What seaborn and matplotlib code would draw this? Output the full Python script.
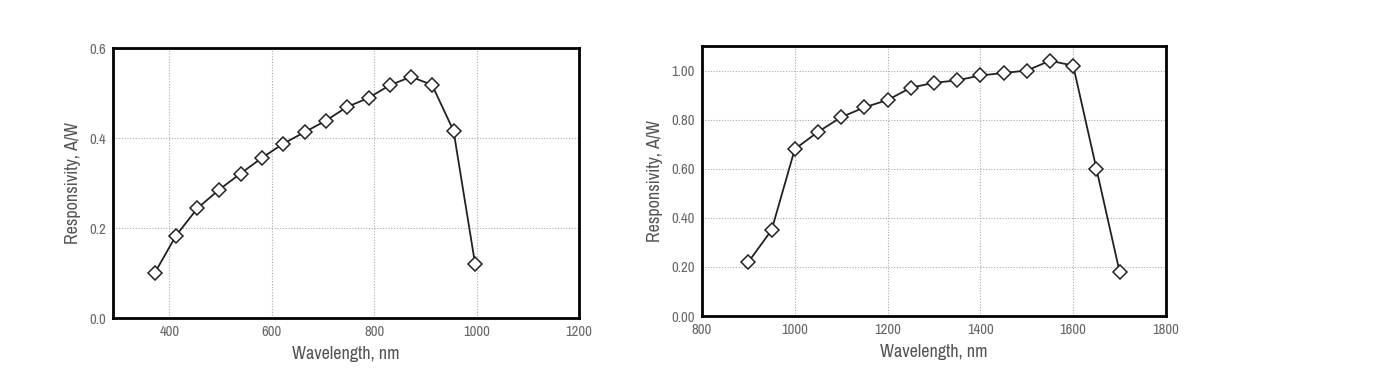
import matplotlib
matplotlib.use("Agg")
import matplotlib.pyplot as plt
import seaborn as sns
import pandas as pd

# Data
si_wavelength = [372, 413, 455, 497, 539, 581, 622, 664, 705, 747, 789, 830, 872, 913, 955, 997]
si_resp = [0.101, 0.183, 0.244, 0.285, 0.321, 0.356, 0.387, 0.413, 0.438, 0.469,
           0.489, 0.517, 0.536, 0.518, 0.416, 0.121]

ingaas_wavelength = [900, 950, 1000, 1050, 1100, 1150, 1200, 1250, 1300, 1350,
                     1400, 1450, 1500, 1550, 1600, 1650, 1700]
ingaas_resp = [0.22, 0.35, 0.68, 0.75, 0.81, 0.85, 0.88, 0.93, 0.95, 0.96,
               0.98, 0.99, 1.00, 1.04, 1.02, 0.60, 0.18]

left_xticks = [400, 600, 800, 1000, 1200]
left_yticks = [0.0, 0.2, 0.4, 0.6]
left_yticklabels = ["0.0", "0.2", "0.4", "0.6"]
right_xticks = [800, 1000, 1200, 1400, 1600, 1800]
right_yticks = [0.0, 0.2, 0.4, 0.6, 0.8, 1.0]
right_yticklabels = ["0.00", "0.20", "0.40", "0.60", "0.80", "1.00"]

xlabel = "Wavelength, nm"
ylabel = "Responsivity, A/W"

sns.set_style("white")
plt.rcParams["font.family"] = ["Archivo Narrow", "DejaVu Sans"]

W, H = 1382, 381
fig = plt.figure(figsize=(W / 100, H / 100), dpi=100)
fig.patch.set_facecolor("white")

def make_axes(px_left, px_top, px_w, px_h):
    return fig.add_axes([px_left / W, 1 - (px_top + px_h) / H, px_w / W, px_h / H])

ax1 = make_axes(113, 48, 466, 270)
ax2 = make_axes(702, 46, 464, 270)

tick_color = "#666666"

def style(ax, x, y, xlim, ylim, xticks, yticks, yticklabels):
    df = pd.DataFrame({"x": x, "y": y})
    sns.lineplot(data=df, x="x", y="y", ax=ax, color="#222222", linewidth=1.3,
                 marker="D", markersize=7, markerfacecolor="white",
                 markeredgecolor="#222222", markeredgewidth=1.1)
    ax.set_xlim(*xlim)
    ax.set_ylim(*ylim)
    ax.set_xticks(xticks)
    ax.set_xticklabels([str(t) for t in xticks])
    ax.set_yticks(yticks)
    ax.set_yticklabels(yticklabels)
    ax.grid(True, linestyle=(0, (1, 1.5)), color="#aaaaaa", linewidth=0.8)
    ax.set_axisbelow(True)
    for s in ax.spines.values():
        s.set_visible(True)
        s.set_color("black")
        s.set_linewidth(2)
    ax.tick_params(axis="both", length=0, pad=5, labelsize=10.5, colors=tick_color)
    ax.set_xlabel(xlabel, fontsize=13, color="#555555", labelpad=5)
    ax.set_ylabel(ylabel, fontsize=13, color="#555555", labelpad=6)

style(ax1, si_wavelength, si_resp, (290, 1200), (0, 0.6), left_xticks, left_yticks, left_yticklabels)
style(ax2, ingaas_wavelength, ingaas_resp, (800, 1800), (0, 1.1), right_xticks, right_yticks, right_yticklabels)

fig.savefig("out.png", dpi=100, facecolor="white")
